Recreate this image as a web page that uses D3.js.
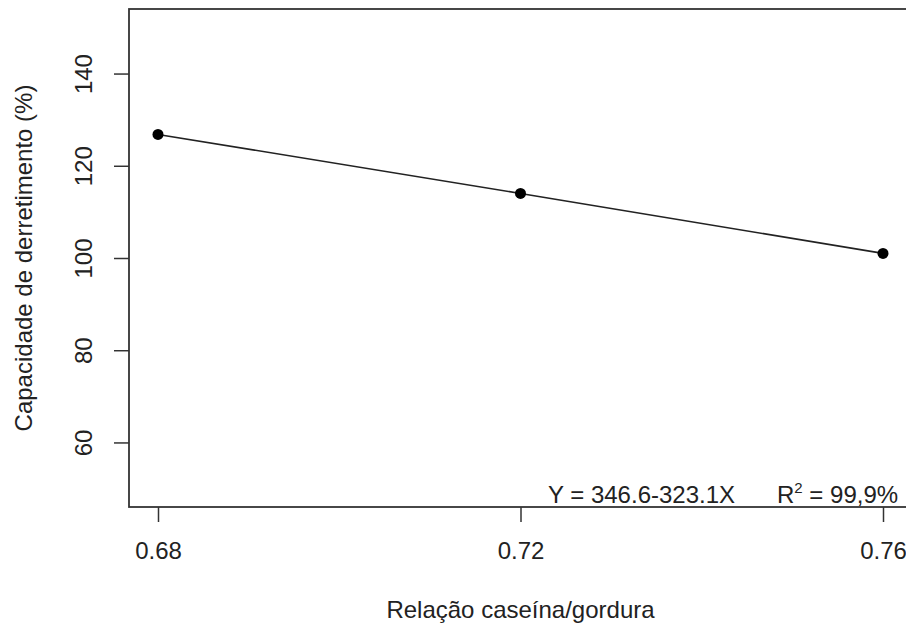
<!DOCTYPE html>
<html>
<head>
<meta charset="utf-8">
<script src="https://cdn.jsdelivr.net/npm/d3@7"></script>
<style>
  html, body { margin: 0; padding: 0; background: #fff; }
  svg { display: block; }
  text { font-family: "Liberation Sans", Arial, sans-serif; fill: #222; }
</style>
</head>
<body>
<svg id="chart" width="906" height="628"></svg>
<script>
// Melting capacity vs. casein/fat ratio
const ratio = [0.68, 0.72, 0.76];
const melting = [126.8, 114.0, 101.0];
const xTicks = [0.68, 0.72, 0.76];
const yTicks = [60, 80, 100, 120, 140];
const xTitle = "Relação caseína/gordura";
const yTitle = "Capacidade de derretimento (%)";
const equation = "Y = 346.6-323.1X";
const r2Value = " = 99,9%";

const svg = d3.select("#chart");
const box = { left: 129, right: 912, top: 9, bottom: 507 };

// R-style 4% padding around the data ranges
const x = d3.scaleLinear().domain([0.6768, 0.7632]).range([box.left, box.right]);
const y = d3.scaleLinear().domain([46, 154]).range([box.bottom, box.top]);

const fs = 24;

// x axis
const xAxis = svg.append("g")
  .attr("transform", `translate(0,${box.bottom})`)
  .call(d3.axisBottom(x).tickValues(xTicks).tickFormat(d3.format(".2f")).tickSize(15).tickPadding(20));
xAxis.select(".domain").remove();
xAxis.selectAll(".tick line").attr("stroke", "#333").attr("stroke-width", 1.5);
xAxis.selectAll(".tick text").attr("font-size", fs).attr("fill", "#333")
  .attr("font-family", "Liberation Sans, Arial, sans-serif");

// y axis with labels rotated parallel to the axis
const yAxis = svg.append("g")
  .attr("transform", `translate(${box.left},0)`)
  .call(d3.axisLeft(y).tickValues(yTicks).tickSize(15).tickFormat(d3.format("d")));
yAxis.select(".domain").remove();
yAxis.selectAll(".tick line").attr("stroke", "#333").attr("stroke-width", 1.5);
yAxis.selectAll(".tick text")
  .attr("font-size", fs).attr("fill", "#333")
  .attr("font-family", "Liberation Sans, Arial, sans-serif")
  .attr("x", null).attr("dy", null)
  .attr("text-anchor", "middle")
  .attr("transform", "translate(-37,0) rotate(-90)")
  .attr("y", 0);

// plot frame
svg.append("rect")
  .attr("x", box.left).attr("y", box.top)
  .attr("width", box.right - box.left).attr("height", box.bottom - box.top)
  .attr("fill", "none").attr("stroke", "#333").attr("stroke-width", 1.8);

// connecting line and points
const pts = ratio.map((r, i) => [r, melting[i]]);
svg.append("path")
  .datum(pts)
  .attr("fill", "none")
  .attr("stroke", "#222")
  .attr("stroke-width", 1.6)
  .attr("d", d3.line().x(d => x(d[0])).y(d => y(d[1])));

svg.selectAll("circle.pt")
  .data(pts)
  .enter().append("circle")
  .attr("class", "pt")
  .attr("cx", d => x(d[0])).attr("cy", d => y(d[1]))
  .attr("r", 5.5).attr("fill", "#000");

// regression annotation
svg.append("text")
  .attr("x", 548).attr("y", 503)
  .attr("font-size", fs)
  .text(equation);
const r2 = svg.append("text")
  .attr("x", 777).attr("y", 503)
  .attr("font-size", fs);
r2.append("tspan").text("R");
r2.append("tspan").attr("dy", -10).attr("font-size", 15).text("2");
r2.append("tspan").attr("dy", 10).text(r2Value);

// axis titles
svg.append("text")
  .attr("x", (box.left + box.right) / 2).attr("y", 618)
  .attr("text-anchor", "middle")
  .attr("font-size", fs)
  .text(xTitle);

svg.append("text")
  .attr("transform", `translate(32,${(box.top + box.bottom) / 2}) rotate(-90)`)
  .attr("text-anchor", "middle")
  .attr("font-size", fs)
  .text(yTitle);
</script>
</body>
</html>
